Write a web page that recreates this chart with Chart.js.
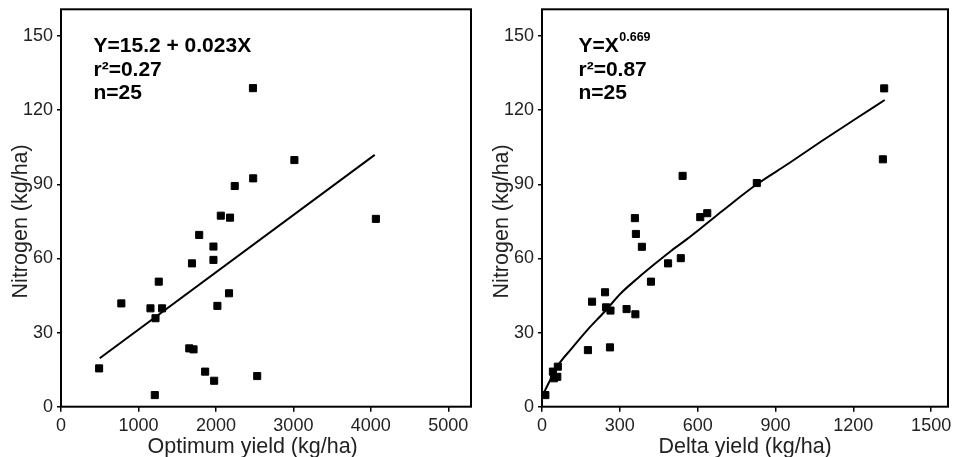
<!DOCTYPE html>
<html><head><meta charset="utf-8">
<script src="https://cdn.jsdelivr.net/npm/chart.js@4.4.1/dist/chart.umd.min.js"></script>
<style>
html,body{margin:0;padding:0;background:#fff;width:954px;height:457px;overflow:hidden}
.box{position:absolute;top:0;width:477px;height:457px}
canvas{display:block}
</style></head><body>
<div class="box" style="left:0"><canvas id="c1" width="477" height="457"></canvas></div>
<div class="box" style="left:477px"><canvas id="c2" width="477" height="457"></canvas></div>
<script>
// ---- Data ----
const optimumYield = [492, 779, 1155, 1305, 1220, 1262, 1211, 1691, 1784, 1656, 1711, 1861, 1968, 1968, 1977, 2019, 2063, 2182, 2169, 2243, 2478, 2481, 2533, 3013, 4065];
const optimumNitrogen = [15.5, 41.8, 39.8, 39.8, 35.8, 50.6, 4.7, 58.0, 69.5, 23.6, 23.2, 14.2, 64.8, 59.4, 10.5, 40.8, 77.3, 76.5, 45.9, 89.3, 128.9, 92.4, 12.4, 99.8, 76.0];
const linearFitX = [500, 4050];
const linearFitY = [19.6, 101.9];

const deltaYield = [13, 42, 61, 46, 59, 177, 193, 243, 247, 264, 262, 326, 358, 362, 360, 385, 420, 486, 535, 542, 610, 637, 828, 1314, 1319];
const deltaNitrogen = [4.7, 14.2, 16.2, 11.5, 12.1, 22.9, 42.5, 46.3, 40.2, 38.9, 24.0, 39.5, 76.3, 69.9, 37.4, 64.7, 50.6, 58.0, 60.1, 93.4, 76.7, 78.3, 90.5, 100.1, 128.8];
const powerFitX = [6, 61, 113, 177, 241, 304, 369, 433, 496, 560, 605, 696, 824, 952, 1080, 1208, 1321];
const powerFitY = [5.4, 16.6, 23.4, 31.3, 38.4, 45.9, 52.0, 57.6, 62.9, 67.9, 71.6, 79.3, 89.7, 98.5, 107.6, 116.4, 124.1];

const nitrogenTicks = [0, 30, 60, 90, 120, 150];
const optimumTicks = [0, 1000, 2000, 3000, 4000, 5000];
const deltaTicks = [0, 300, 600, 900, 1200, 1500];

const leftNotes = ['Y=15.2 + 0.023X', 'r\u00B2=0.27', 'n=25'];
const rightNotes = ['Y=X', '0.669', 'r\u00B2=0.87', 'n=25'];

// ---- Styling ----
const FONT = '"Liberation Sans", Arial, Helvetica, sans-serif';
const INK = '#222222';

function zeroPad(s) { s.paddingTop = 0; s.paddingBottom = 0; s.paddingLeft = 0; s.paddingRight = 0; }

function makeChart(id, cfg) {
  const plugin = {
    id: 'frameAndText',
    afterDraw(chart) {
      const ctx = chart.ctx, ca = chart.chartArea;
      const xs = chart.scales.x, ys = chart.scales.y;
      ctx.save();
      ctx.strokeStyle = '#000';
      ctx.lineWidth = 2;
      ctx.strokeRect(ca.left, ca.top, ca.right - ca.left, ca.bottom - ca.top);
      // axis titles
      ctx.fillStyle = INK;
      ctx.font = '21.5px ' + FONT;
      ctx.textAlign = 'center';
      ctx.textBaseline = 'alphabetic';
      ctx.fillText(cfg.xTitle, xs.getPixelForValue(cfg.xTitleCenter), 452.5);
      ctx.save();
      ctx.translate(ca.left - 34, ys.getPixelForValue(75));
      ctx.rotate(-Math.PI / 2);
      ctx.fillText('Nitrogen (kg/ha)', 0, 0);
      ctx.restore();
      // annotation
      ctx.fillStyle = '#000';
      ctx.textAlign = 'left';
      cfg.drawNotes(ctx, ca);
      ctx.restore();
    }
  };
  return new Chart(document.getElementById(id), {
    type: 'scatter',
    data: {
      datasets: [
        {
          label: 'fit',
          data: cfg.fitX.map((x, i) => ({x, y: cfg.fitY[i]})),
          showLine: true,
          borderColor: '#000',
          borderWidth: 2,
          pointRadius: 0,
          cubicInterpolationMode: 'monotone',
          fill: false
        },
        {
          label: 'obs',
          data: cfg.px.map((x, i) => ({x, y: cfg.py[i]})),
          pointStyle: 'rect',
          pointRadius: 5,
          pointBackgroundColor: '#000',
          pointBorderColor: '#000',
          pointBorderWidth: 1,
          showLine: false
        }
      ]
    },
    options: {
      responsive: false,
      animation: false,
      events: [],
      layout: { padding: { left: 0, top: 9.3, right: cfg.padRight, bottom: 0 } },
      plugins: { legend: { display: false }, tooltip: { enabled: false } },
      scales: {
        x: {
          type: 'linear',
          min: 0, max: cfg.xMax,
          afterBuildTicks: s => { s.ticks = cfg.xTicks.map(v => ({value: v})); },
          afterFit: s => { s.height = 50.3; zeroPad(s); },
          ticks: { font: { size: 18, family: FONT }, color: INK, padding: 4, maxRotation: 0, autoSkip: false, includeBounds: false, callback: v => String(v) },
          grid: { display: true, drawOnChartArea: false, drawTicks: true, tickLength: 5, color: '#000', lineWidth: 1.5 },
          border: { display: false }
        },
        y: {
          type: 'linear',
          min: 0, max: 160.8,
          afterBuildTicks: s => { s.ticks = nitrogenTicks.map(v => ({value: v})); },
          afterFit: s => { s.width = cfg.yWidth; zeroPad(s); },
          ticks: { font: { size: 18, family: FONT }, color: INK, padding: 4, autoSkip: false, includeBounds: false, callback: v => String(v) },
          grid: { display: true, drawOnChartArea: false, drawTicks: true, tickLength: 4, color: '#000', lineWidth: 1.5 },
          border: { display: false }
        }
      }
    },
    plugins: [plugin]
  });
}

makeChart('c1', {
  px: optimumYield, py: optimumNitrogen,
  fitX: linearFitX, fitY: linearFitY,
  xMax: 5293, xTicks: optimumTicks, yWidth: 61, padRight: 3.7,
  xTitle: 'Optimum yield (kg/ha)', xTitleCenter: 2474,
  drawNotes(ctx, ca) {
    ctx.font = 'bold 21px ' + FONT;
    const x = ca.left + 32.5;
    ctx.fillText(leftNotes[0], x, 52);
    ctx.fillText(leftNotes[1], x, 75.5);
    ctx.fillText(leftNotes[2], x, 99);
  }
});

makeChart('c2', {
  px: deltaYield, py: deltaNitrogen,
  fitX: powerFitX, fitY: powerFitY,
  xMax: 1565, xTicks: deltaTicks, yWidth: 65, padRight: 4.3,
  xTitle: 'Delta yield (kg/ha)', xTitleCenter: 783,
  drawNotes(ctx, ca) {
    ctx.font = 'bold 21px ' + FONT;
    const x = ca.left + 36.5;
    ctx.fillText(rightNotes[0], x, 51.5);
    const w = ctx.measureText(rightNotes[0]).width;
    ctx.font = 'bold 12.5px ' + FONT;
    ctx.fillText(rightNotes[1], x + w + 0.5, 40.5);
    ctx.font = 'bold 21px ' + FONT;
    ctx.fillText(rightNotes[2], x, 75.5);
    ctx.fillText(rightNotes[3], x, 99);
  }
});
</script>
</body></html>
